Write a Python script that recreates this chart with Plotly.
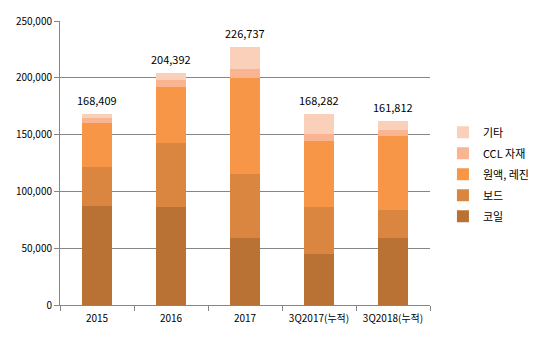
import plotly.graph_objects as go

categories = ["2015", "2016", "2017", "3Q2017(누적)", "3Q2018(누적)"]
coil = [86750, 85900, 58700, 44700, 58700]
board = [35050, 56900, 57000, 41200, 24550]
resin = [38600, 49100, 84100, 58700, 65750]
ccl = [4600, 6100, 7900, 5850, 5200]
etc = [3409, 6392, 19037, 17832, 7612]

series_names = ["코일", "보드", "원액, 레진", "CCL 자재", "기타"]
series_values = [coil, board, resin, ccl, etc]
colors = ["#B97234", "#DA8540", "#F79646", "#F9B591", "#FBD0BA"]

totals = [sum(v) for v in zip(*series_values)]

FONT = "Noto Sans CJK KR, DejaVu Sans, sans-serif"

fig = go.Figure()
n = len(series_names)
for k, (name, vals, col) in enumerate(zip(series_names, series_values, colors)):
    fig.add_trace(go.Bar(x=categories, y=vals, name=name, marker_color=col,
                         marker_line_width=0, width=0.4, legendgroup=name,
                         legendrank=1000 + (n - k)))

for i, t in enumerate(totals):
    fig.add_annotation(x=i, y=t, xref="x", yref="y", text=f"{t:,}", showarrow=False,
                       yanchor="bottom", yshift=4,
                       font=dict(family=FONT, size=11, color="#000000"))

fig.update_layout(
    barmode="stack",
    width=547, height=338,
    margin=dict(l=60, r=85, t=19, b=33),
    paper_bgcolor="white", plot_bgcolor="white",
    font=dict(family=FONT, size=10, color="#000000"),
    showlegend=True,
    legend=dict(x=1.035, y=0.46, xanchor="left", yanchor="middle",
                traceorder="grouped", tracegroupgap=2,
                font=dict(family=FONT, size=11),
                bgcolor="rgba(0,0,0,0)", itemwidth=30),
)
fig.update_xaxes(type="category", range=[-0.5, 4.5], showline=True, linecolor="#868686",
                 linewidth=1, ticks="outside", tickson="boundaries", ticklen=5,
                 tickcolor="#868686", showgrid=False, tickangle=0, ticklabelstandoff=4,
                 tickfont=dict(family=FONT, size=10))
fig.update_yaxes(range=[0, 250000], dtick=50000, tickformat=",", showline=True,
                 linecolor="#868686", linewidth=1, ticks="outside", ticklen=5,
                 tickcolor="#868686", showgrid=True, gridcolor="#868686", gridwidth=1,
                 zeroline=False, tickfont=dict(family=FONT, size=10))

fig.write_html("out.html")
